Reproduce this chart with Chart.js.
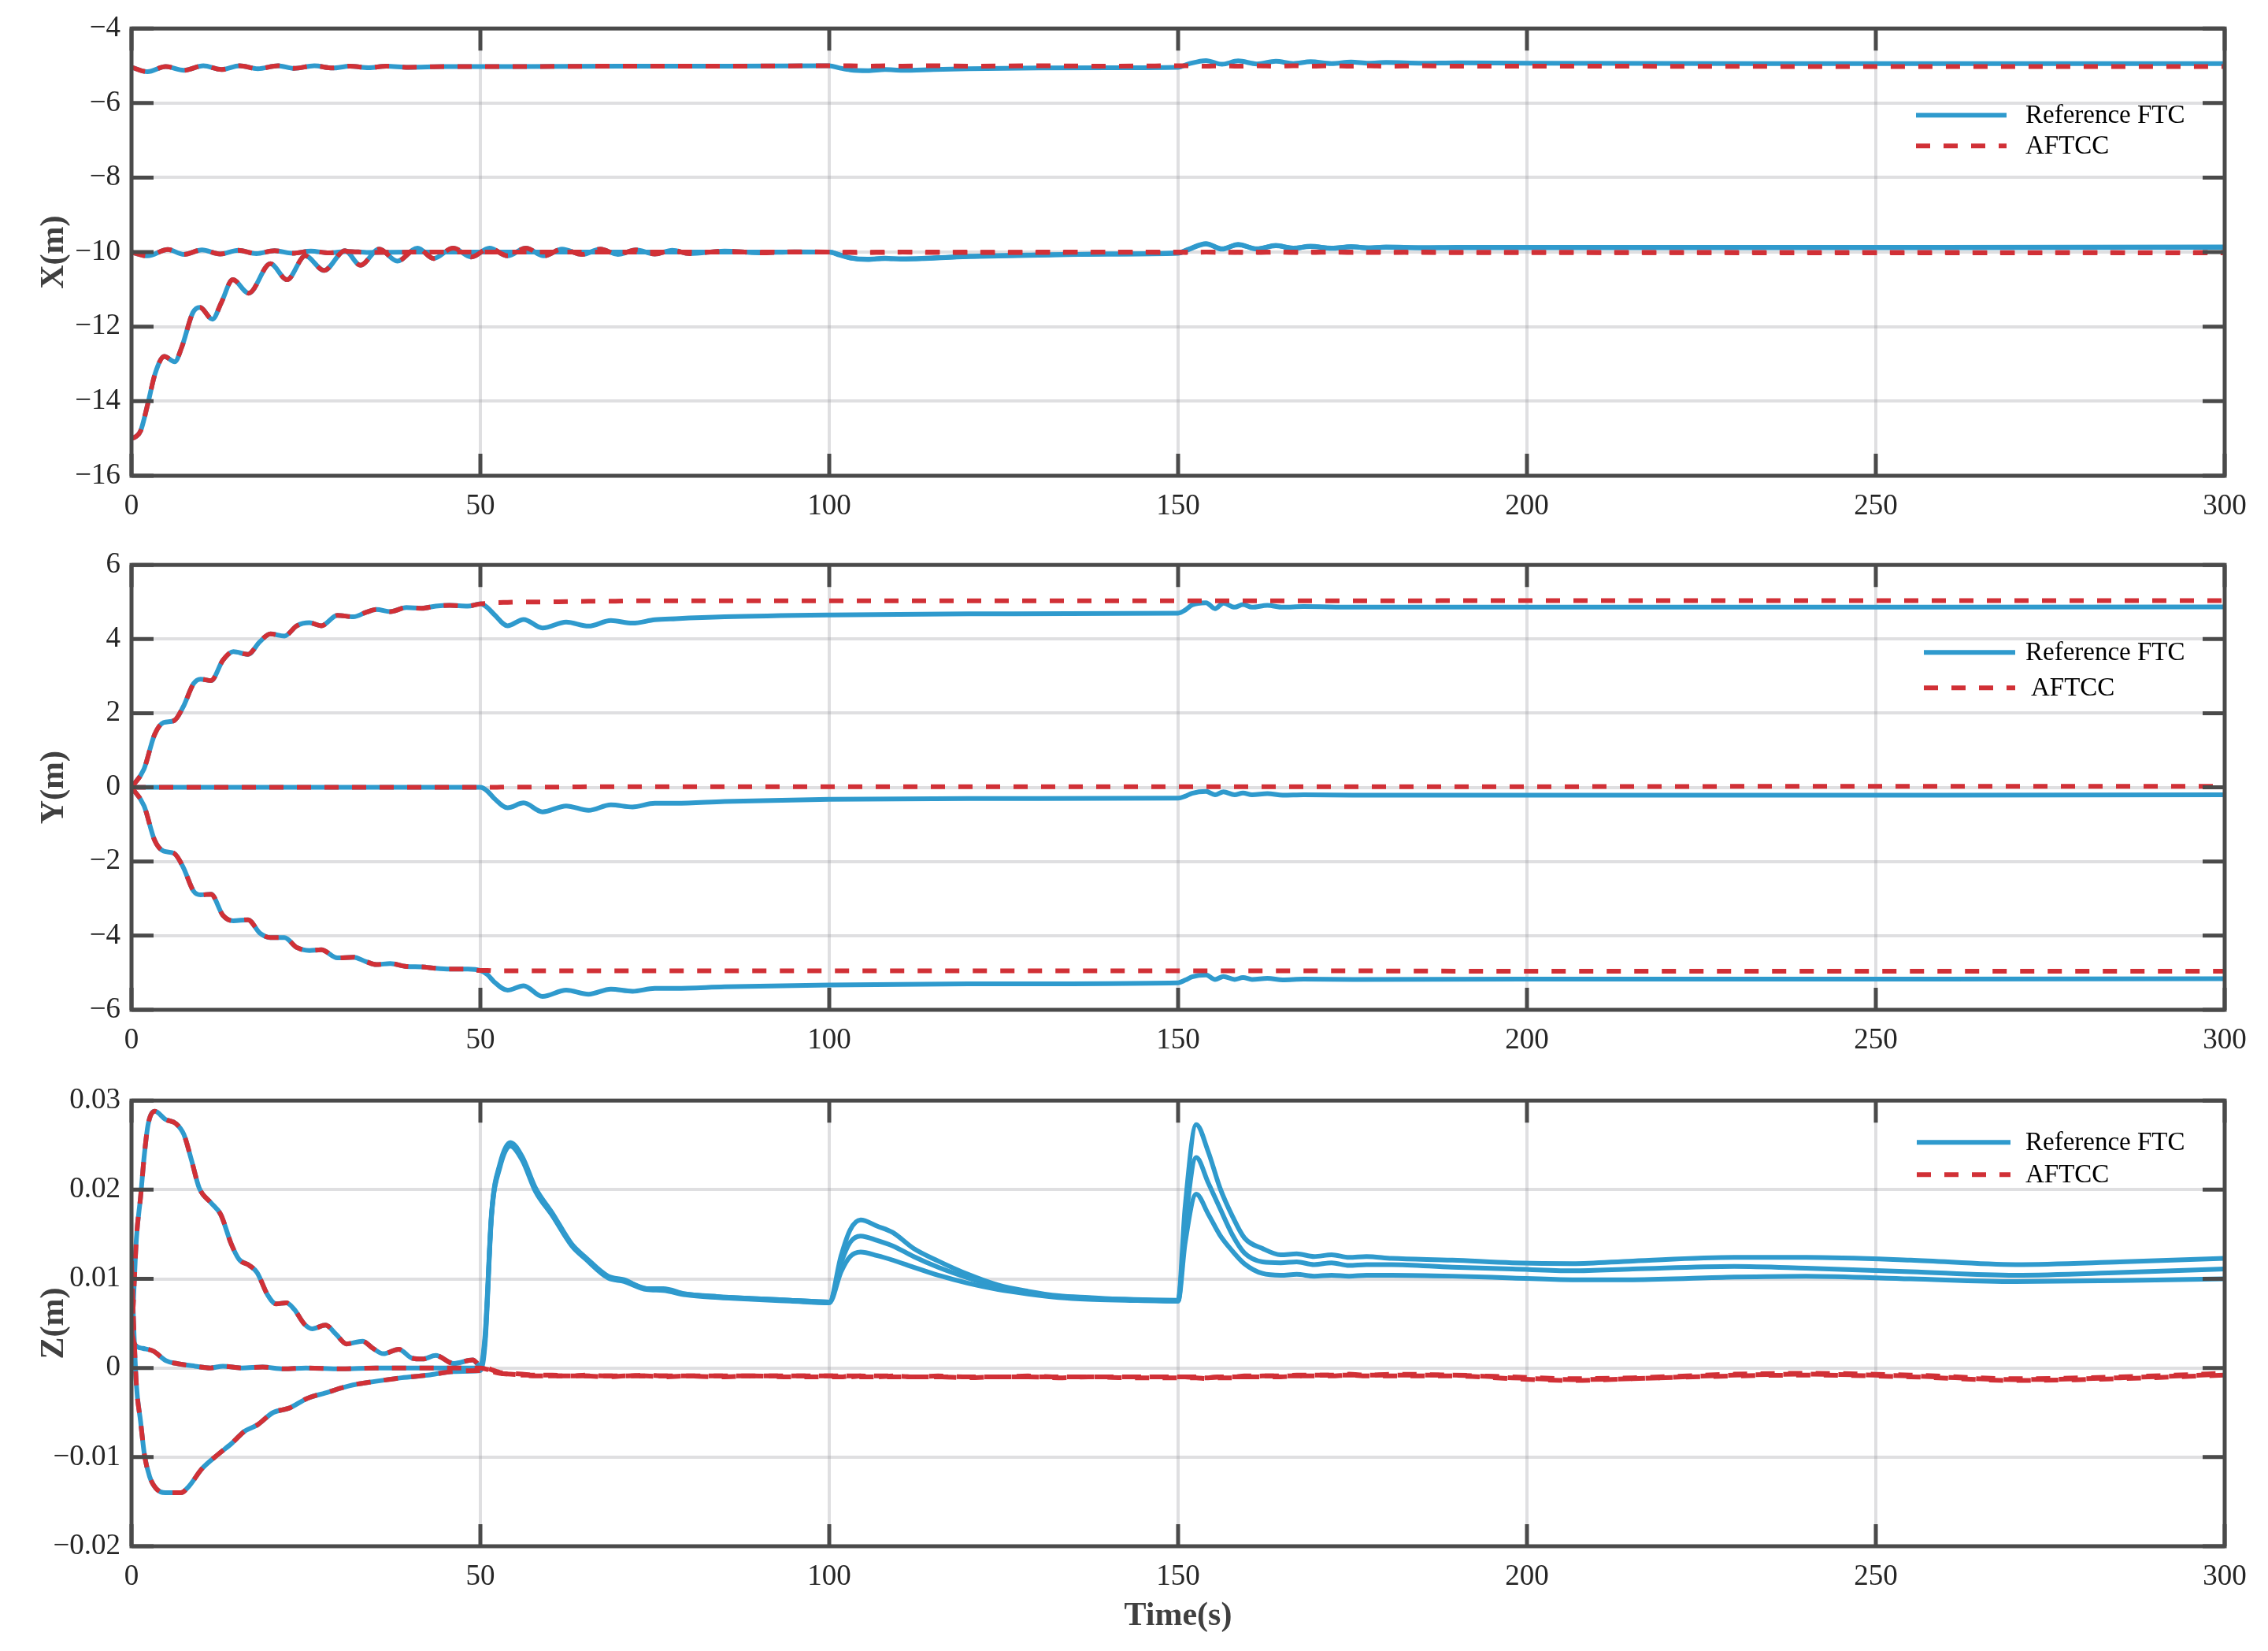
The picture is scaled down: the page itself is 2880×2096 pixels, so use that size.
<!DOCTYPE html>
<html>
<head>
<meta charset="utf-8">
<script src="https://cdn.jsdelivr.net/npm/chart.js@4.4.0/dist/chart.umd.min.js"></script>
<style>
  html, body { margin: 0; padding: 0; background: #fff; }
  #wrap { position: relative; width: 2880px; height: 2096px; background: #fff; }
  canvas { position: absolute; left: 0; }
</style>
</head>
<body>
<div id="wrap">
  <canvas id="chartX" width="2880" height="700" style="top:0px"></canvas>
  <canvas id="chartY" width="2880" height="695" style="top:681px"></canvas>
  <canvas id="chartZ" width="2880" height="735" style="top:1361px"></canvas>
</div>
<script>
// ---- tick labels / legend ----
const timeTicks = [0, 50, 100, 150, 200, 250, 300];
const xTicks = [-16, -14, -12, -10, -8, -6, -4];
const yTicks = [-6, -4, -2, 0, 2, 4, 6];
const zTicks = [-0.02, -0.01, 0, 0.01, 0.02, 0.03];
const legendLabels = ['Reference FTC', 'AFTCC'];

// ---- X(m) panel: common part 0..100 s, then the two methods split ----
const tX1Pre = [0, 2.3, 4.9, 7.5, 10.3, 12.9, 15.5, 18.1, 21, 23.3, 26.2, 28.8, 31.3, 34, 36.5, 39.7, 45, 55, 70, 85, 100];
const x1Pre = [-5.04, -5.16, -5.02, -5.12, -5.0, -5.1, -5.0, -5.08, -5.0, -5.07, -5.0, -5.06, -5.01, -5.05, -5.01, -5.04, -5.02, -5.02, -5.01, -5.01, -5.0];
const tX2Pre = [0, 2.3, 5.2, 7.5, 10.1, 12.7, 15.3, 17.9, 20.5, 23.1, 25.7, 28.3, 31, 34, 40, 50, 70, 100];
const x2Pre = [-10.0, -10.1, -9.93, -10.06, -9.94, -10.05, -9.95, -10.04, -9.96, -10.03, -9.97, -10.02, -9.98, -10.01, -10.0, -10.0, -10.0, -10.0];
const tX3Pre = [0, 0.6, 1.3, 2.3, 3.4, 4.7, 6.2, 7.2, 8.8, 9.8, 11.6, 12.9, 14.5, 16.8, 19.9, 22.3, 24.9, 27.6, 30.6, 32.8,
  35.5, 38.1, 41, 43.3, 46.1, 48.7, 51.3, 53.9, 56.5, 59.1, 61.7, 64.6, 67.2, 69.7, 72.3, 75, 77.5, 80, 85, 90, 95, 100];
const x3Pre = [-15.0, -14.95, -14.8, -14.1, -13.25, -12.8, -12.94, -12.55, -11.62, -11.48, -11.8, -11.34, -10.74, -11.1, -10.31, -10.74, -10.1, -10.49, -9.96, -10.35,
  -9.92, -10.24, -9.89, -10.17, -9.89, -10.13, -9.89, -10.1, -9.89, -10.1, -9.92, -10.06, -9.92, -10.06, -9.94, -10.05, -9.95, -10.04, -9.97, -10.02, -9.99, -10.0];

const tXPost = [101.5, 103, 105.5, 108, 110.5, 115, 120, 130, 140, 150, 151.5, 154, 156.3, 158.6, 161.3, 164, 166.5, 169, 172, 174.8,
  177.3, 179.8, 185, 190, 200, 250, 300];
const x1Ftc = [-5.06, -5.11, -5.13, -5.1, -5.12, -5.1, -5.08, -5.06, -5.05, -5.04, -4.95, -4.86, -4.96, -4.87, -4.95, -4.88, -4.94, -4.89, -4.94, -4.9,
  -4.93, -4.91, -4.93, -4.92, -4.93, -4.94, -4.94];
const x1Aftcc = [-5.0, -5.0, -5.01, -5.0, -5.01, -5.0, -5.01, -5.0, -5.01, -5.0, -5.0, -5.01, -5.0, -5.01, -5.0, -5.01, -5.0, -5.01, -5.0, -5.01,
  -5.0, -5.01, -5.0, -5.01, -5.01, -5.02, -5.02];
const x2Ftc = [-10.08, -10.16, -10.2, -10.16, -10.19, -10.15, -10.12, -10.08, -10.05, -10.02, -9.92, -9.77, -9.92, -9.79, -9.92, -9.82, -9.9, -9.84, -9.9, -9.85,
  -9.89, -9.86, -9.88, -9.87, -9.87, -9.87, -9.86];
const x2Aftcc = [-10.0, -10.01, -10.0, -10.01, -10.0, -10.0, -10.01, -10.0, -10.0, -10.01, -10.0, -10.0, -10.01, -10.0, -10.01, -10.0, -10.0, -10.01, -10.0, -10.01,
  -10.0, -10.0, -10.01, -10.01, -10.01, -10.02, -10.01];
const x3Ftc = [-10.07, -10.15, -10.19, -10.17, -10.18, -10.16, -10.11, -10.07, -10.05, -10.03, -9.93, -9.78, -9.91, -9.8, -9.91, -9.83, -9.89, -9.85, -9.89, -9.86,
  -9.88, -9.87, -9.88, -9.88, -9.88, -9.88, -9.87];
const x3Aftcc = [-10.01, -10.0, -10.01, -10.0, -10.0, -10.01, -10.0, -10.01, -10.0, -10.0, -10.01, -10.0, -10.0, -10.01, -10.0, -10.0, -10.01, -10.0, -10.0, -10.0,
  -10.01, -10.01, -10.0, -10.01, -10.01, -10.01, -10.02];

// ---- Y(m) panel: common part 0..50 s ----
const tYPre = [0, 1.8, 3.3, 4.6, 6.1, 7.4, 8.9, 9.9, 11.4, 13.1, 14.6, 16.7, 18.4, 19.9, 21.9, 23.7, 25.5, 27.2, 29.5, 31.8,
  33.6, 35.1, 37.1, 39.4, 41.6, 43.6, 45.6, 48.2, 50];
const yUpPre = [0, 0.5, 1.42, 1.75, 1.8, 2.17, 2.8, 2.92, 2.88, 3.43, 3.66, 3.59, 3.93, 4.14, 4.08, 4.36, 4.44, 4.36, 4.64, 4.6,
  4.72, 4.8, 4.74, 4.85, 4.83, 4.89, 4.91, 4.89, 4.95];
const yLowPre = [0, -0.5, -1.42, -1.72, -1.78, -2.15, -2.8, -2.9, -2.88, -3.45, -3.6, -3.57, -3.93, -4.05, -4.05, -4.32, -4.4, -4.38, -4.6, -4.58,
  -4.7, -4.78, -4.75, -4.83, -4.84, -4.88, -4.9, -4.9, -4.94];
const tYMidPre = [0, 50];
const yMidPre = [0, 0];

const tYPost = [51, 52, 53.9, 56.2, 58.9, 62.3, 65.5, 68.7, 71.8, 75, 78, 85, 100, 120, 150, 151, 152, 154, 155.3, 156.5,
  158.1, 159.3, 160.6, 162.8, 165, 168, 175, 200, 250, 300];
const yUpFtc = [4.85, 4.66, 4.36, 4.53, 4.3, 4.46, 4.35, 4.5, 4.43, 4.52, 4.55, 4.6, 4.65, 4.68, 4.7, 4.78, 4.92, 4.98, 4.82, 4.97,
  4.86, 4.93, 4.86, 4.91, 4.86, 4.88, 4.86, 4.86, 4.86, 4.87];
const yUpAftcc = [4.96, 4.98, 4.99, 5.0, 5.0, 5.01, 5.02, 5.02, 5.03, 5.03, 5.03, 5.03, 5.03, 5.03, 5.03, 5.03, 5.03, 5.03, 5.03, 5.03,
  5.03, 5.03, 5.03, 5.03, 5.03, 5.03, 5.03, 5.04, 5.04, 5.04];
const yMidFtc = [-0.1, -0.3, -0.55, -0.42, -0.66, -0.5, -0.62, -0.47, -0.53, -0.43, -0.43, -0.38, -0.32, -0.3, -0.29, -0.24, -0.16, -0.11, -0.2, -0.12,
  -0.2, -0.15, -0.2, -0.17, -0.21, -0.2, -0.21, -0.21, -0.21, -0.2];
const yMidAftcc = [0.0, 0.0, 0.01, 0.01, 0.01, 0.01, 0.02, 0.02, 0.02, 0.02, 0.02, 0.02, 0.02, 0.02, 0.02, 0.02, 0.02, 0.02, 0.02, 0.02,
  0.02, 0.02, 0.02, 0.02, 0.02, 0.02, 0.02, 0.02, 0.03, 0.03];
const yLowFtc = [-5.05, -5.25, -5.47, -5.35, -5.64, -5.47, -5.58, -5.44, -5.5, -5.42, -5.42, -5.38, -5.33, -5.3, -5.27, -5.2, -5.11, -5.06, -5.18, -5.1,
  -5.18, -5.13, -5.18, -5.15, -5.19, -5.17, -5.18, -5.17, -5.17, -5.16];
const yLowAftcc = [-4.94, -4.95, -4.95, -4.95, -4.95, -4.95, -4.95, -4.95, -4.95, -4.95, -4.95, -4.95, -4.95, -4.95, -4.95, -4.95, -4.95, -4.95, -4.95, -4.95,
  -4.95, -4.95, -4.95, -4.95, -4.95, -4.95, -4.95, -4.96, -4.96, -4.96];

// ---- Z(m) panel: common part 0..50 s ----
const tZUpPre = [0, 0.3, 0.7, 1.3, 1.85, 2.4, 3.35, 4.85, 6.4, 7.5, 8.6, 9.7, 11.3, 12.8, 14.3, 15.4, 16.9, 18.0, 19.5, 20.7,
  22.2, 23.3, 24.8, 25.9, 27.8, 29.3, 30.8, 33.1, 34.6, 36.1, 38.3, 40.2, 41.7, 43.6, 46.2, 48.9, 50];
const zUpPre = [0.003, 0.008, 0.0145, 0.0192, 0.024, 0.0274, 0.0288, 0.0279, 0.0274, 0.0262, 0.0233, 0.0202, 0.0186, 0.0172, 0.0139, 0.0122, 0.0115, 0.0107, 0.0082, 0.0072,
  0.0073, 0.0066, 0.0049, 0.0044, 0.0048, 0.0038, 0.0027, 0.003, 0.0022, 0.0016, 0.0021, 0.0011, 0.001, 0.0014, 0.0005, 0.0009, 0.0002];
const tZMidPre = [0, 0.5, 1.6, 3.1, 5, 6.5, 9.1, 11.3, 13.1, 15.8, 18.8, 21.8, 25, 30, 35, 40, 45, 50];
const zMidPre = [0.004, 0.0026, 0.0022, 0.0019, 0.0008, 0.0005, 0.0002, 0.0, 0.0002, 0.0, 0.0001, -0.0001, 0.0, -0.0001, 0.0, 0.0, 0.0, 0.0];
const tZLowPre = [0, 0.3, 0.7, 1.3, 1.85, 2.6, 3.5, 4.85, 7.1, 8.2, 10.1, 12.4, 14.3, 16.2, 18, 20.3, 22.6, 25.2, 27.8, 31.2,
  35, 38.7, 42.5, 46.2, 50];
const zLowPre = [0.012, 0.005, -0.0019, -0.006, -0.0097, -0.0122, -0.0135, -0.014, -0.014, -0.0133, -0.0113, -0.0097, -0.0085, -0.0071, -0.0064, -0.005, -0.0045, -0.0034, -0.0028, -0.002,
  -0.0015, -0.0011, -0.0008, -0.0004, -0.0003];

const tZPost = [50.7, 51.6, 52.8, 54.3, 56, 57.9, 60.3, 63.1, 65.1, 68.3, 70.6, 73.8, 76.2, 79.4, 84.1, 88.9, 94.4, 100,
  101.7, 103, 104.5, 106.9, 109.1, 112.1, 115.6, 119.9, 124.2, 128.5, 132.9, 137.2, 142.4, 150,
  151, 152.6, 154.3, 156, 157.8, 159.5, 162.1, 164.7, 167, 169.5, 172, 174.5, 177, 180.6, 189.3, 197.9, 206.5, 215.2, 229.7, 240, 255, 270, 285, 300];
const zUpFtc = [0.004, 0.0174, 0.0229, 0.0253, 0.0237, 0.0202, 0.0174, 0.0139, 0.0124, 0.0103, 0.0099, 0.0089, 0.0089, 0.0083, 0.008, 0.0078, 0.0076, 0.0074,
  0.0126, 0.0155, 0.0166, 0.0159, 0.0152, 0.0134, 0.012, 0.0105, 0.0093, 0.0086, 0.0081, 0.0079, 0.0077, 0.0076,
  0.018, 0.0273, 0.0243, 0.0202, 0.017, 0.0146, 0.0134, 0.0127, 0.0128, 0.0125, 0.0127, 0.0124, 0.0125, 0.0123, 0.0121, 0.0118, 0.0117, 0.012, 0.0124, 0.0124, 0.0121, 0.0116, 0.0119, 0.0123];
const zMidFtc = [0.0035, 0.0172, 0.0227, 0.0251, 0.0235, 0.02, 0.0172, 0.0138, 0.0123, 0.0102, 0.0098, 0.0089, 0.0088, 0.0083, 0.008, 0.0078, 0.0076, 0.0074,
  0.0118, 0.0141, 0.0148, 0.0143, 0.0137, 0.0125, 0.0113, 0.0101, 0.0091, 0.0085, 0.008, 0.0078, 0.0077, 0.0075,
  0.016, 0.0236, 0.0208, 0.0179, 0.0149, 0.0129, 0.0119, 0.0118, 0.0119, 0.0116, 0.0118, 0.0115, 0.0116, 0.0116, 0.0113, 0.0111, 0.0109, 0.0111, 0.0114, 0.0112, 0.0108, 0.0104, 0.0107, 0.0111];
const zLowFtc = [0.003, 0.017, 0.0225, 0.0249, 0.0233, 0.0198, 0.0171, 0.0137, 0.0122, 0.0101, 0.0097, 0.0088, 0.0087, 0.0082, 0.0079, 0.0077, 0.0075, 0.0073,
  0.0108, 0.0125, 0.013, 0.0126, 0.0121, 0.0113, 0.0104, 0.0095, 0.0088, 0.0083, 0.0079, 0.0077, 0.0076, 0.0075,
  0.014, 0.0195, 0.0173, 0.0149, 0.0131, 0.0117, 0.0106, 0.0104, 0.0105, 0.0103, 0.0104, 0.0103, 0.0104, 0.0104, 0.0103, 0.0101, 0.0099, 0.0099, 0.0102, 0.0103, 0.01, 0.0097, 0.0098, 0.01];
const zUpAftcc = [0.0001, -0.0002, -0.0005, -0.0006, -0.0007, -0.0008, -0.0008, -0.0009, -0.0008, -0.0009, -0.0009, -0.0008, -0.0009, -0.0009, -0.0009, -0.0009, -0.0009, -0.0009,
  -0.0009, -0.0009, -0.0009, -0.0009, -0.0009, -0.001, -0.0009, -0.001, -0.001, -0.001, -0.001, -0.001, -0.001, -0.001,
  -0.001, -0.0011, -0.0011, -0.001, -0.001, -0.001, -0.0009, -0.0009, -0.0009, -0.0008, -0.0008, -0.0008, -0.0008, -0.0008, -0.0008, -0.0011, -0.0013, -0.0012, -0.0008, -0.0007, -0.0009, -0.0013, -0.0011, -0.0007];
const zMidAftcc = [-0.0001, -0.0003, -0.0006, -0.0007, -0.0008, -0.0009, -0.0009, -0.0009, -0.0009, -0.001, -0.0009, -0.0009, -0.001, -0.0009, -0.001, -0.0009, -0.001, -0.001,
  -0.001, -0.0009, -0.001, -0.001, -0.001, -0.001, -0.001, -0.0011, -0.001, -0.001, -0.0011, -0.001, -0.0011, -0.0011,
  -0.0011, -0.0011, -0.0012, -0.0011, -0.0011, -0.001, -0.001, -0.001, -0.0009, -0.0009, -0.0009, -0.0008, -0.0009, -0.0009, -0.0009, -0.0012, -0.0014, -0.0012, -0.0009, -0.0008, -0.001, -0.0014, -0.0012, -0.0008];
const zLowAftcc = [-0.0003, -0.0004, -0.0006, -0.0007, -0.0008, -0.0008, -0.0009, -0.0009, -0.0009, -0.0009, -0.0009, -0.0009, -0.0009, -0.0009, -0.0009, -0.0009, -0.0009, -0.0009,
  -0.0009, -0.001, -0.0009, -0.001, -0.0009, -0.001, -0.001, -0.001, -0.001, -0.0009, -0.001, -0.001, -0.001, -0.001,
  -0.001, -0.001, -0.0011, -0.001, -0.001, -0.0009, -0.0009, -0.0009, -0.0008, -0.0008, -0.0008, -0.0007, -0.0008, -0.0007, -0.0008, -0.001, -0.0012, -0.0011, -0.0007, -0.0006, -0.0008, -0.0012, -0.001, -0.0006];

// ---- styles ----
const BLUE = '#2f9acd';
const RED = '#d13036';
const AXIS = '#4a4a4a';
const GRID = 'rgba(150, 150, 155, 0.3)';
const TEXT = '#262626';
const FONT = "'Liberation Serif', 'Times New Roman', serif";

const pts = (ts, vs) => ts.map((t, i) => ({ x: t, y: vs[i] }));

// one agent: the shared transient, then FTC (solid blue) and AFTCC (dashed red)
const agent = (tPre, vPre, tPost, ftc, aftcc) => {
    const t = tPre.concat(tPost);
    return [
        { label: legendLabels[1], data: pts(t, vPre.concat(aftcc)), borderColor: RED, borderDash: [18, 17], order: 1 },
        { label: legendLabels[0], data: pts(t, vPre.concat(ftc)), borderColor: BLUE, order: 2 },
    ];
};

const fmt = v => String(+Number(v).toFixed(3)).replace('-', '\u2212');

// box, inward ticks on all four sides and the legend
const framePlugin = {
    id: 'frame',
    afterDatasetsDraw(chart, args, opts) {
        const { ctx, chartArea: a, scales } = chart;
        const tl = 28;
        ctx.save();
        ctx.strokeStyle = AXIS;
        ctx.lineWidth = 5;
        ctx.beginPath();
        scales.x.ticks.forEach(t => {
            const x = scales.x.getPixelForValue(t.value);
            ctx.moveTo(x, a.bottom); ctx.lineTo(x, a.bottom - tl);
            ctx.moveTo(x, a.top); ctx.lineTo(x, a.top + tl);
        });
        scales.y.ticks.forEach(t => {
            const y = scales.y.getPixelForValue(t.value);
            ctx.moveTo(a.left, y); ctx.lineTo(a.left + tl, y);
            ctx.moveTo(a.right, y); ctx.lineTo(a.right - tl, y);
        });
        ctx.stroke();
        ctx.strokeRect(a.left, a.top, a.right - a.left, a.bottom - a.top);

        // legend
        const lg = opts.legend;
        const ds = chart.data.datasets;
        const rows = [ds[1], ds[0]];
        ctx.font = '33px ' + FONT;
        ctx.textBaseline = 'middle';
        ctx.fillStyle = '#000';
        rows.forEach((d, i) => {
            const y = a.top + lg.rows[i];
            ctx.strokeStyle = d.borderColor;
            ctx.lineWidth = 6;
            ctx.setLineDash(d.borderDash || []);
            ctx.beginPath();
            ctx.moveTo(a.right - lg.line[0], y);
            ctx.lineTo(a.right - lg.line[1], y);
            ctx.stroke();
            ctx.setLineDash([]);
            ctx.fillText(d.label, a.right - lg.text[i], y + 1);
        });
        ctx.restore();
    }
};

const makePanel = (id, datasets, ticks, title, box) => {
    const ctx = document.getElementById(id).getContext('2d');
    return new Chart(ctx, {
        type: 'line',
        data: { datasets },
        options: {
            responsive: false,
            animation: false,
            devicePixelRatio: 1,
            layout: { padding: { top: 35, right: 55, left: 0, bottom: 0 } },
            elements: {
                point: { radius: 0 },
                line: { borderWidth: 6, cubicInterpolationMode: 'monotone', fill: false },
            },
            plugins: {
                legend: { display: false },
                tooltip: { enabled: false },
                frame: { legend: box.legend },
            },
            scales: {
                x: {
                    type: 'linear', min: 0, max: 300,
                    afterBuildTicks: s => { s.ticks = timeTicks.map(v => ({ value: v })); },
                    afterFit: s => { s.height = box.axisH; },
                    grid: { color: GRID, lineWidth: 4, drawTicks: false },
                    border: { display: false },
                    ticks: { font: { family: FONT, size: 37 }, color: TEXT, padding: 17, maxRotation: 0, callback: fmt },
                    title: {
                        display: !!box.xTitle, text: box.xTitle || '', color: '#404040',
                        font: { family: FONT, size: 42, weight: 'bold' }, padding: { top: 0, bottom: 19 },
                    },
                },
                y: {
                    type: 'linear', min: ticks[0], max: ticks[ticks.length - 1],
                    afterBuildTicks: s => { s.ticks = ticks.map(v => ({ value: v })); },
                    afterFit: s => { s.width = 167; },
                    grid: { color: GRID, lineWidth: 4, drawTicks: false },
                    border: { display: false },
                    ticks: { font: { family: FONT, size: 37 }, color: TEXT, padding: 14, callback: fmt },
                    title: {
                        display: true, text: title, color: '#404040',
                        font: { family: FONT, size: 42, weight: 'bold' }, padding: { top: 44, bottom: 0 },
                    },
                },
            },
        },
        plugins: [framePlugin],
    });
};

document.addEventListener('DOMContentLoaded', () => {
    makePanel('chartX', [
        ...agent(tX1Pre, x1Pre, tXPost, x1Ftc, x1Aftcc),
        ...agent(tX2Pre, x2Pre, tXPost, x2Ftc, x2Aftcc),
        ...agent(tX3Pre, x3Pre, tXPost, x3Ftc, x3Aftcc),
    ], xTicks, 'X(m)', { axisH: 96, legend: { rows: [110, 149], line: [392, 277], text: [253, 253] } });

    makePanel('chartY', [
        ...agent(tYPre, yUpPre, tYPost, yUpFtc, yUpAftcc),
        ...agent(tYMidPre, yMidPre, tYPost, yMidFtc, yMidAftcc),
        ...agent(tYPre, yLowPre, tYPost, yLowFtc, yLowAftcc),
    ], yTicks, 'Y(m)', { axisH: 94, legend: { rows: [111, 156], line: [382, 266], text: [253, 246] } });

    makePanel('chartZ', [
        ...agent(tZUpPre, zUpPre, tZPost, zUpFtc, zUpAftcc),
        ...agent(tZMidPre, zMidPre, tZPost, zMidFtc, zMidAftcc),
        ...agent(tZLowPre, zLowPre, tZPost, zLowFtc, zLowAftcc),
    ], zTicks, 'Z(m)', { axisH: 133, xTitle: 'Time(s)', legend: { rows: [53, 94], line: [391, 272], text: [253, 253] } });
});
</script>
</body>
</html>
